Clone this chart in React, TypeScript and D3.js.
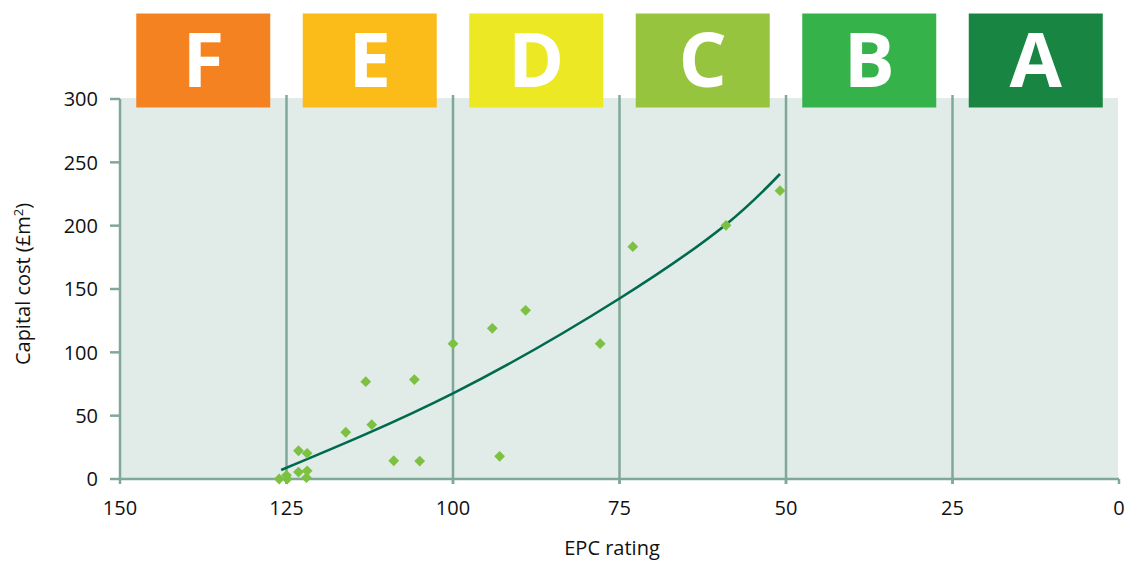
import React from "react";
import * as d3 from "d3";

// EPC bands (left to right on the chart)
const bandLetters = ["F", "E", "D", "C", "B", "A"];
const bandColors = ["#f58220", "#fbbb18", "#ece823", "#97c43e", "#35b24a", "#198542"];
const bandEdges = [150, 125, 100, 75, 50, 25, 0];

// Axis ticks
const xTicks = [150, 125, 100, 75, 50, 25, 0];
const yTicks = [0, 50, 100, 150, 200, 250, 300];

// Scatter data: EPC rating vs capital cost
const epcRating = [126.1, 125.0, 124.9, 123.2, 121.9, 123.2, 121.9, 122.0, 116.1, 112.2, 113.1, 108.9, 105.0, 105.8, 100.0, 94.1, 93.0, 89.1, 77.9, 73.0, 59.0, 50.9];
const capitalCost = [0, 2.9, 0, 22.3, 20.3, 5.5, 6.5, 1.0, 36.9, 42.9, 76.8, 14.4, 14.2, 78.5, 106.8, 119.0, 17.9, 133.2, 106.8, 183.4, 200.3, 227.6];

// Trendline
const trendEpc = [125.8, 100, 75, 59.0, 50.9];
const trendCost = [7.1, 67.6, 142.5, 201.0, 240.8];

const W = 1137;
const H = 562;
const left = 120;
const right = 1119;
const top = 99;
const bottom = 479;

const gridColor = "#80a898";
const font = "'Open Sans', 'Noto Sans', sans-serif";

export default function App() {
  const x = d3.scaleLinear().domain([150, 0]).range([left, right]);
  const y = d3.scaleLinear().domain([0, 300]).range([bottom, top]);

  const line = d3
    .line<number>()
    .x((_, i) => x(trendEpc[i]))
    .y((d) => y(d))
    .curve(d3.curveNatural);

  const diamond = d3.symbol().type(d3.symbolSquare).size(58)() as string;

  return (
    <svg
      width={W}
      height={H}
      style={{ position: "absolute", left: 0, top: 0, background: "#fff" }}
      fontFamily={font}
    >
      {/* plot background */}
      <rect x={left} y={top - 1} width={right - left - 1} height={bottom - top + 1} fill="#e1ebe7" />

      {/* vertical gridlines at band edges */}
      {xTicks.slice(1, -1).map((t) => (
        <line key={"g" + t} x1={x(t)} x2={x(t)} y1={top - 4} y2={bottom + 5} stroke={gridColor} strokeWidth={2.5} />
      ))}

      {/* y axis */}
      <line x1={left} x2={left} y1={top} y2={bottom} stroke={gridColor} strokeWidth={2.5} />
      {yTicks.map((t) => (
        <g key={"y" + t}>
          <line x1={left - 10} x2={left} y1={y(t)} y2={y(t)} stroke={gridColor} strokeWidth={2.5} />
          <text x={left - 22} y={y(t)} dy="0.36em" textAnchor="end" fontSize={20} fill="#111">
            {t}
          </text>
        </g>
      ))}

      {/* x axis */}
      <line x1={left} x2={right} y1={bottom} y2={bottom} stroke={gridColor} strokeWidth={2.5} />
      {xTicks.map((t) => (
        <g key={"x" + t}>
          <line x1={x(t)} x2={x(t)} y1={bottom} y2={bottom + 5} stroke={gridColor} strokeWidth={2.5} />
          <text x={x(t)} y={515} textAnchor="middle" fontSize={20} fill="#111">
            {t}
          </text>
        </g>
      ))}

      {/* band boxes */}
      {bandLetters.map((L, i) => {
        const cx = (x(bandEdges[i]) + x(bandEdges[i + 1])) / 2;
        return (
          <g key={L}>
            <rect x={cx - 67} y={13.5} width={134} height={94} fill={bandColors[i]} />
            <text x={cx} y={87} textAnchor="middle" fontSize={76} fontWeight={700} fill="#fff">
              {L}
            </text>
          </g>
        );
      })}

      {/* trendline */}
      <path d={line(trendCost) || ""} fill="none" stroke="#006a4e" strokeWidth={2.6} />

      {/* scatter points */}
      {epcRating.map((e, i) => (
        <path
          key={"p" + i}
          d={diamond}
          transform={`translate(${x(e)},${y(capitalCost[i])}) rotate(45)`}
          fill="#7cc142"
        />
      ))}

      {/* axis titles */}
      <text
        transform={`translate(30,284) rotate(-90)`}
        textAnchor="middle"
        fontSize={20}
        fill="#111"
      >
        Capital cost (£m<tspan fontSize={13} dy={-7}>2</tspan>
        <tspan dy={7}>)</tspan>
      </text>
      <text x={612} y={555} textAnchor="middle" fontSize={20} fill="#111">
        EPC rating
      </text>
    </svg>
  );
}
